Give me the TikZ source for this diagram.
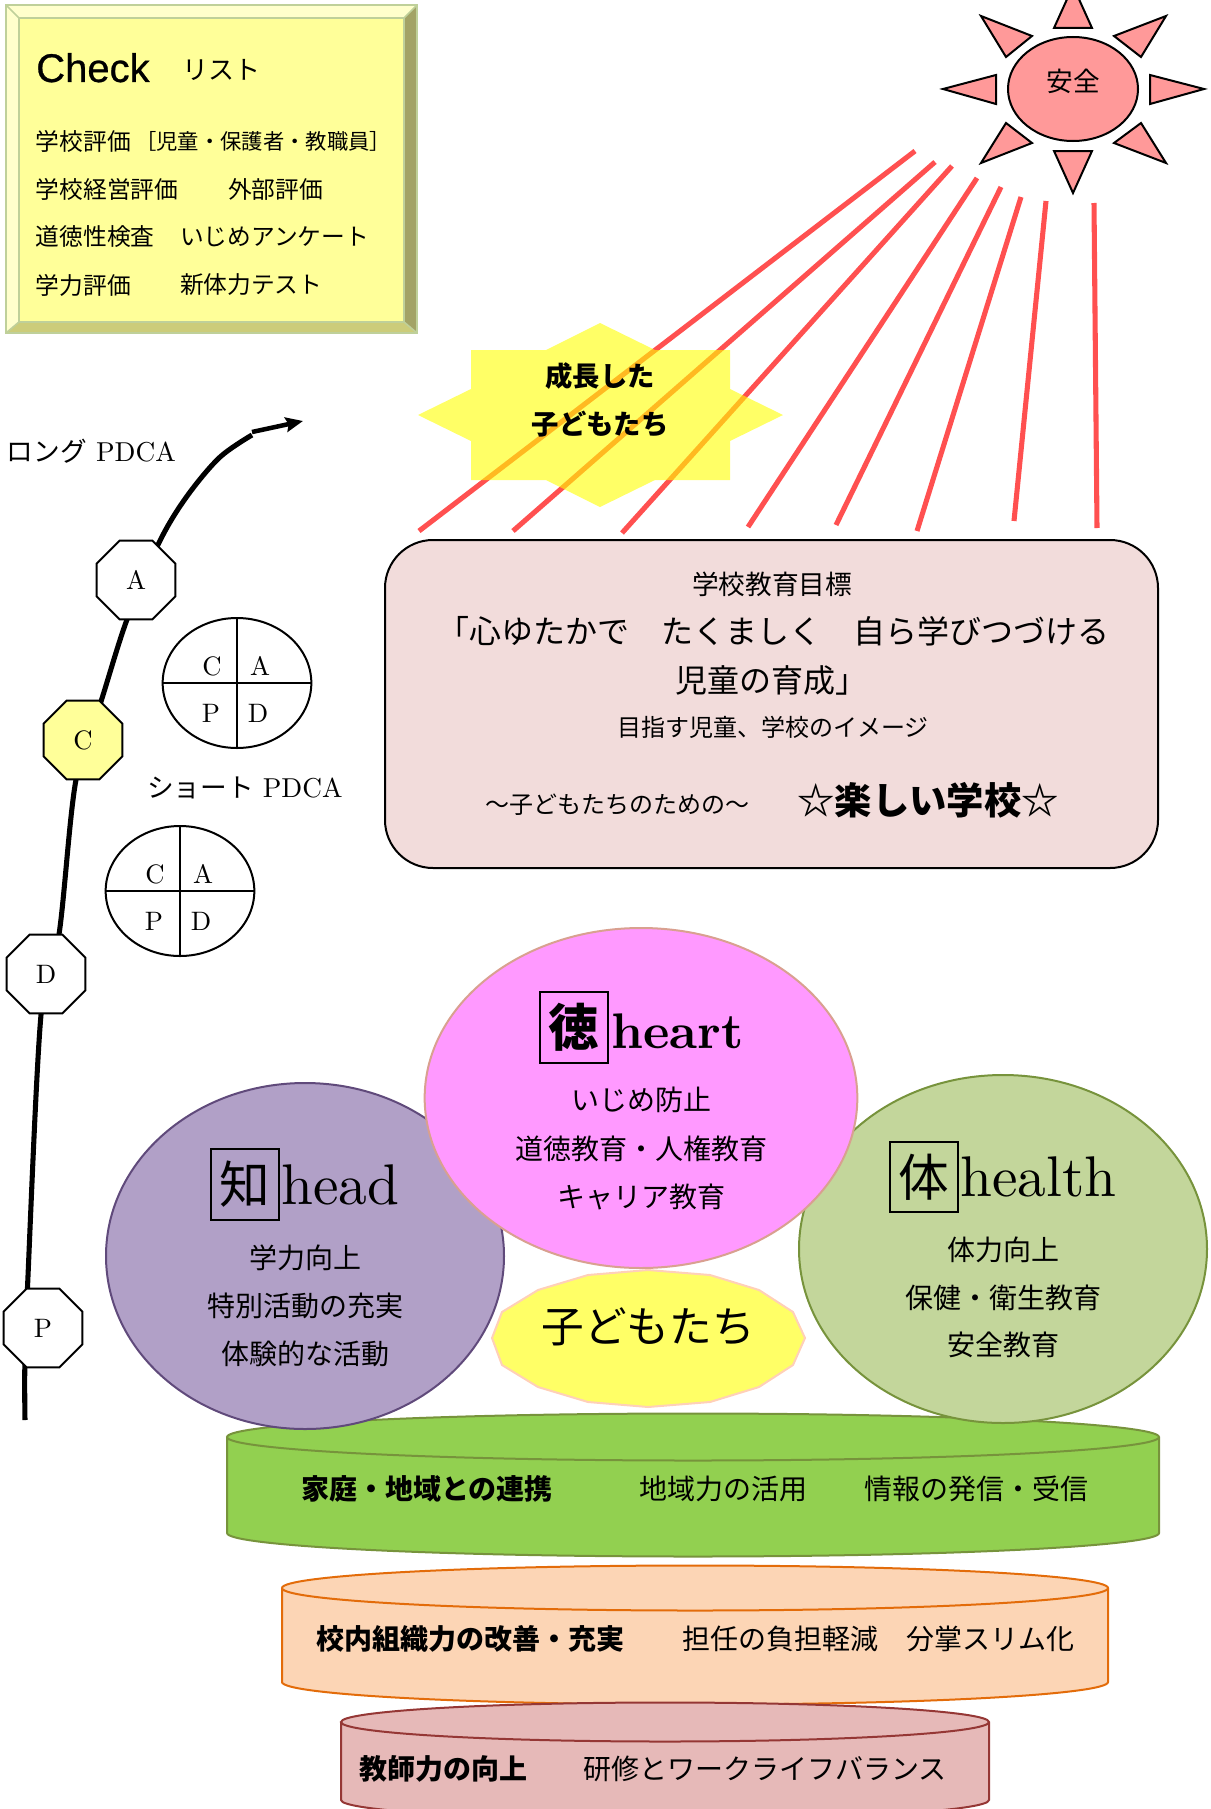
\documentclass[tikz,border=0pt]{standalone}
\usepackage{fontspec}
\usetikzlibrary{shapes.geometric,arrows.meta}
\setmainfont{lmroman10-regular}[Extension=.otf,BoldFont=lmroman10-bold]
\newfontfamily\cjk{Noto Sans CJK JP}
\newfontfamily\arialx[FakeBold=0.7]{Liberation Sans}
\pgfdeclarelayer{behind}
\pgfsetlayers{behind,main}
\definecolor{bevelL}{HTML}{FFFFCC}
\definecolor{bevelB}{HTML}{CCCC7A}
\definecolor{bevelR}{HTML}{A3A366}
\definecolor{bevelE}{HTML}{BFD09A}
\definecolor{boxfill}{HTML}{FFFF99}
\definecolor{sunfill}{HTML}{FF9999}
\definecolor{raycol}{HTML}{FF5050}
\definecolor{starcol}{HTML}{FFFF00}
\definecolor{goalfill}{HTML}{F2DCDB}
\definecolor{pinkfill}{HTML}{FF99FF}
\definecolor{pinkedge}{HTML}{D9A090}
\definecolor{purpfill}{HTML}{B1A0C7}
\definecolor{purpedge}{HTML}{604A7B}
\definecolor{grnfill}{HTML}{C3D69B}
\definecolor{grnedge}{HTML}{77933C}
\definecolor{cyla}{HTML}{92D050}
\definecolor{cylb}{HTML}{FCD5B5}
\definecolor{cylbe}{HTML}{E36C0A}
\definecolor{cylc}{HTML}{E6B9B8}
\definecolor{cylce}{HTML}{953735}
\definecolor{kidfill}{HTML}{FFFF66}
\definecolor{kidedge}{HTML}{FFD0B8}
\tikzset{
  x=0.75pt,y=-0.75pt,
  txt/.style={inner sep=0pt,outer sep=0pt,font=\cjk,text=black},
  fa/.style={txt,font={\fontsize{17.8}{20}\cjk}},
  fb/.style={txt,font={\fontsize{21}{24}\cjk}},
  fbb/.style={txt,font={\fontsize{21}{24}\cjk\bfseries}},
  ray/.style={draw=raycol,line width=3.8pt},
  suntri/.style={draw=black,fill=sunfill,line width=1.5pt,line join=miter},
  octa/.style={regular polygon,regular polygon sides=8,minimum size=64pt,inner sep=0pt,draw=black,line width=1.5pt,fill=white,font=\fontsize{20}{20}\selectfont},
  capd/.style={ellipse,minimum width=111.5pt,minimum height=97.5pt,inner sep=0pt,draw=black,line width=1.5pt,fill=white},
  capdline/.style={draw=black,line width=1.5pt},
  letter/.style={inner sep=0pt,font=\fontsize{20}{20}\selectfont},
  big/.style={ellipse,inner sep=0pt,outer sep=0pt,line width=1.5pt},
  kanji/.style={draw=black,line width=1.5pt,inner sep=0pt,minimum width=51pt,minimum height=53pt,font={\fontsize{38}{40}\cjk}},
  word/.style={anchor=base west,inner sep=0pt,font=\fontsize{43}{44}\selectfont},
}
\newcommand\cylin[6]{% style, xm, rx, yc, yb, ry
  \draw[#1] ({#2-#3},#4) -- ({#2-#3},#5)
   .. controls ({#2-#3},{#5+.5523*#6}) and ({#2-.5523*#3},{#5+#6}) .. (#2,{#5+#6})
   .. controls ({#2+.5523*#3},{#5+#6}) and ({#2+#3},{#5+.5523*#6}) .. ({#2+#3},#5)
   -- ({#2+#3},#4)
   .. controls ({#2+#3},{#4-.5523*#6}) and ({#2+.5523*#3},{#4-#6}) .. (#2,{#4-#6})
   .. controls ({#2-.5523*#3},{#4-#6}) and ({#2-#3},{#4-.5523*#6}) .. ({#2-#3},#4)
   .. controls ({#2-#3},{#4+.5523*#6}) and ({#2-.5523*#3},{#4+#6}) .. (#2,{#4+#6})
   .. controls ({#2+.5523*#3},{#4+#6}) and ({#2+#3},{#4+.5523*#6}) .. ({#2+#3},#4);}
\begin{document}
\begin{tikzpicture}
\useasboundingbox (0,0) rectangle (1210,1809);
% check box
\fill[boxfill] (6,5) rectangle (417,333);
\fill[bevelL] (6,5) -- (417,5) -- (404,18) -- (19,18) -- (19,322) -- (6,333) -- cycle;
\fill[bevelR] (417,5) -- (417,333) -- (404,322) -- (404,18) -- cycle;
\fill[bevelB] (6,333) -- (417,333) -- (404,322) -- (19,322) -- cycle;
\draw[bevelE,line width=1.5pt] (6,5) rectangle (417,333);
\draw[bevelE,line width=1.2pt] (19,18) rectangle (404,322);
\draw[bevelE,line width=1.2pt] (6,5) -- (19,18) (417,5) -- (404,18) (6,333) -- (19,322) (417,333) -- (404,322);
\node[anchor=base west,inner sep=0pt,font={\fontsize{30}{32}\arialx}] (chk) at (36,82) {Check};
\node[txt,font={\fontsize{19.5}{20}\cjk}] (lst) at (221,70) {リスト};
\node[fa,anchor=west] (l1) at (36,141) {学校評価};
\node[txt,font={\fontsize{16}{18}\cjk}] (l1b) at (263,141) {［児童・保護者・教職員］};
\node[fa,anchor=west] (l2) at (36,189) {学校経営評価};
\node[fa,anchor=west] (l2b) at (228,189) {外部評価};
\node[fa,anchor=west] (l3) at (36,237) {道徳性検査};
\node[fa,anchor=west] (l3b) at (180,237) {いじめアンケート};
\node[fa,anchor=west] (l4) at (36,285) {学力評価};
\node[fa,anchor=west] (l4b) at (180,285) {新体力テスト};
% sun
\fill[suntri] (1054,28) -- (1092,28) -- (1073,-14) -- cycle;
\fill[suntri] (1054,151) -- (1092,151) -- (1073,193) -- cycle;
\fill[suntri] (996,75) -- (996,104) -- (943,89) -- cycle;
\fill[suntri] (1150,75) -- (1150,104) -- (1204,89) -- cycle;
\fill[suntri] (981,16) -- (1032,36) -- (1006,57) -- cycle;
\fill[suntri] (1166,16) -- (1114,36) -- (1141,57) -- cycle;
\fill[suntri] (981,163) -- (1032,143) -- (1006,123) -- cycle;
\fill[suntri] (1166,163) -- (1114,143) -- (1141,123) -- cycle;
\node[ellipse,draw=black,fill=sunfill,line width=1.5pt,minimum width=97.5pt,minimum height=78pt,inner sep=0pt] (sun) at (1073,89) {};
\node[txt,font={\fontsize{20}{22}\cjk}] (suntxt) at (1073,81) {安全};
% rays
\foreach \a/\b [count=\i] in {915/151,935/162,952/166,977/178,1001/187,1021/197,1046/201,1094/203}{\coordinate (ra\i) at (\a,\b);}
\foreach \a/\b [count=\i] in {419/531,513/531,622/533,748/527,836/525,917/531,1014/521,1097/528}{\coordinate (rb\i) at (\a,\b);}
\foreach \i in {1,...,8}{\draw[ray] (ra\i) -- (rb\i);}
% star
\fill[starcol,fill opacity=.6] (600,323) -- (655,350) -- (730,350) -- (730,389) -- (783,415) -- (730,441) -- (730,480) -- (655,480) -- (600,507) -- (546,480) -- (471,480) -- (471,441) -- (418,415) -- (471,389) -- (471,350) -- (546,350) -- cycle;
\node[txt,font={\fontsize{20.5}{22}\cjk\bfseries}] (g1) at (600,376) {成長した};
\node[txt,font={\fontsize{20.5}{22}\cjk\bfseries}] (g2) at (600,424) {子どもたち};
% goal box
\draw[fill=goalfill,draw=black,line width=1.5pt,rounded corners=36pt] (385,540) rectangle (1158,868);
\node[txt,font={\fontsize{20}{22}\cjk}] (t1) at (772,584) {学校教育目標};
\node[txt,font={\fontsize{24}{26}\cjk}] (t2) at (773,631) {「心ゆたかで　たくましく　自ら学びつづける};
\node[txt,font={\fontsize{24}{26}\cjk}] (t3) at (771,680) {児童の育成」};
\node[txt,font={\fontsize{18}{20}\cjk}] (t4) at (773,727) {目指す児童、学校のイメージ};
\node[txt,font={\fontsize{18}{20}\cjk}] (t5) at (617,805) {～子どもたちのための～};
\node[txt,font={\fontsize{28}{30}\cjk\bfseries}] (t6) at (928,800) {☆楽しい学校☆};
% long PDCA
\node[txt,anchor=west,font=\fontsize{20.5}{22}\selectfont] (longl) at (7,451) {{\fontsize{20}{20}\cjk ロング} PDCA};
\node[txt,anchor=west,font=\fontsize{20.5}{22}\selectfont] (shortl) at (147,788) {{\fontsize{20}{20}\cjk ショート} PDCA};
\node[octa] (A) at (136,580) {A};
\node[octa,fill=boxfill] (C) at (83,740) {C};
\node[octa] (D) at (46,974) {D};
\node[octa] (P) at (43,1328) {P};
\coordinate (lstart) at (25,1420);
\coordinate (lc1) at (185,499);
\coordinate (lc2) at (219,458);
\coordinate (lkink) at (252,435);
\coordinate (lkink2) at (252,432);
\coordinate (ltip) at (303,421);
\begin{pgfonlayer}{behind}
\draw[black,line width=3.8pt] plot[smooth,tension=.55] coordinates {(lstart) (P.245) (P.111) (D.263) (D.72) (C.260) (C.65) (A.257) (A.58) (lc1) (lc2) (lkink)};
\draw[black,line width=3.4pt,-{Stealth[length=13pt,width=11pt,inset=2pt]}] (lkink2) -- (ltip);
\end{pgfonlayer}
% CAPD circles
\node[capd] (ca) at (237,683) {};
\draw[capdline] (ca.north) -- (ca.south) (ca.west) -- (ca.east);
\node[letter] (ca1) at (212,666) {C};
\node[letter] (ca2) at (260,666) {A};
\node[letter] (ca3) at (211,713) {P};
\node[letter] (ca4) at (258,713) {D};
\node[capd] (cb) at (180,891) {};
\draw[capdline] (cb.north) -- (cb.south) (cb.west) -- (cb.east);
\node[letter] (cb1) at (155,874) {C};
\node[letter] (cb2) at (203,874) {A};
\node[letter] (cb3) at (154,921) {P};
\node[letter] (cb4) at (201,921) {D};
% cylinders
\cylin{fill=cyla,draw=grnedge,line width=1.5pt}{693}{466}{1437}{1533}{23.5}
\cylin{fill=cylb,draw=cylbe,line width=1.5pt}{695}{413}{1588}{1682}{22.5}
\cylin{fill=cylc,draw=cylce,line width=1.5pt}{665}{324}{1722}{1800}{19.5}
% big circles
\node[big,fill=purpfill,draw=purpedge,minimum width=298.5pt,minimum height=259.5pt] (know) at (305,1256) {};
\node[big,fill=grnfill,draw=grnedge,minimum width=306pt,minimum height=261pt] (body) at (1003,1249) {};
\node[big,fill=pinkfill,draw=pinkedge,minimum width=324.5pt,minimum height=255pt] (heart) at (641,1098) {};
% kids polygon
\draw[fill=kidfill,draw=kidedge,line width=1.5pt] (648,1270) -- (710,1275) -- (759,1290) -- (793,1312) -- (805,1338) -- (793,1365) -- (759,1387) -- (710,1402) -- (648,1407) -- (588,1402) -- (538,1387) -- (502,1365) -- (492,1338) -- (502,1312) -- (538,1290) -- (588,1275) -- cycle;
\node[txt,font={\fontsize{32}{34}\cjk}] (kid) at (648,1327) {子どもたち};
% heart
\node[kanji,font={\fontsize{38}{40}\cjk\bfseries}] (k1) at (574,1027.5) {徳};
\node[word,font=\fontsize{37.5}{40}\bfseries] (w1) at (611,1048) {heart};
\node[fb] (h1) at (641,1100) {いじめ防止};
\node[fb] (h2) at (641,1149) {道徳教育・人権教育};
\node[fb] (h3) at (641,1197) {キャリア教育};
% head
\node[kanji] (k2) at (245,1184.5) {知};
\node[word] (w2) at (281,1204) {head};
\node[fb] (a1) at (305,1258) {学力向上};
\node[fb] (a2) at (305,1306) {特別活動の充実};
\node[fb] (a3) at (305,1354) {体験的な活動};
% health
\node[kanji] (k3) at (923.5,1177) {体};
\node[word] (w3) at (960,1196) {health};
\node[fb] (b1) at (1003,1250) {体力向上};
\node[fb] (b2) at (1003,1298) {保健・衛生教育};
\node[fb] (b3) at (1003,1345) {安全教育};
% cylinder texts
\node[fbb,anchor=west] (c1) at (301,1489) {家庭・地域との連携};
\node[fb,anchor=west] (c2) at (639,1489) {地域力の活用};
\node[fb,anchor=west] (c3) at (864,1489) {情報の発信・受信};
\node[fbb,anchor=west] (d1) at (316,1639) {校内組織力の改善・充実};
\node[fb,anchor=west] (d2) at (682,1639) {担任の負担軽減};
\node[fb,anchor=west] (d3) at (906,1639) {分掌スリム化};
\node[fbb,anchor=west] (e1) at (359,1769) {教師力の向上};
\node[fb,anchor=west] (e2) at (583,1769) {研修とワークライフバランス};
\end{tikzpicture}
\end{document}
